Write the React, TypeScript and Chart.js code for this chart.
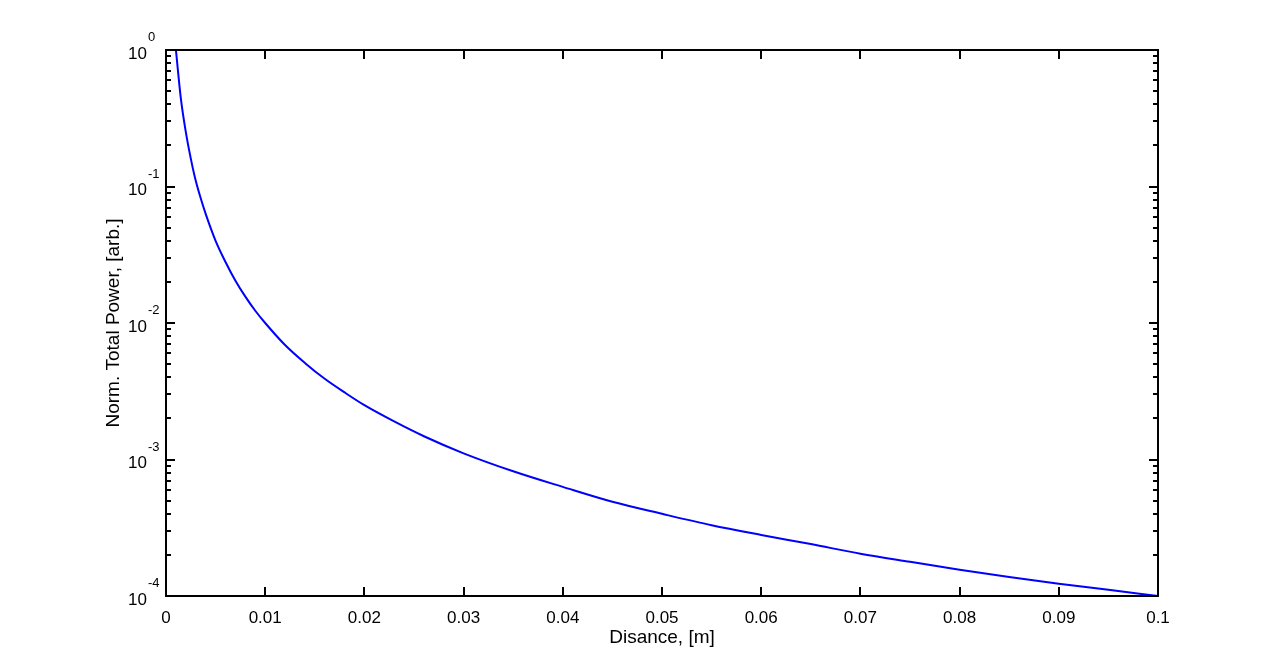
import React, { useEffect, useRef } from "react";
import { Chart, registerables } from "chart.js";

Chart.register(...registerables);

// Distance [m]
const DISTANCE = [
  0.001, 0.0015, 0.002, 0.0025, 0.003, 0.0035, 0.004, 0.005, 0.006, 0.007, 0.008, 0.009,
  0.01, 0.012, 0.014, 0.016, 0.018, 0.02, 0.023, 0.026, 0.03, 0.035, 0.04, 0.045, 0.05,
  0.055, 0.06, 0.065, 0.07, 0.075, 0.08, 0.085, 0.09, 0.095, 0.1,
];
// Normalised total power [arb.]
const POWER = [
  1.0, 0.44, 0.25, 0.16, 0.11, 0.082, 0.063, 0.04, 0.028, 0.0204, 0.0156, 0.0123,
  0.01, 0.0069, 0.0051, 0.0039, 0.0031, 0.0025, 0.0019, 0.00148, 0.00111, 0.00082,
  0.00063, 0.00049, 0.0004, 0.00033, 0.00028, 0.00024, 0.000204, 0.000178, 0.000156,
  0.000138, 0.000123, 0.000111, 0.0001,
];
const X_TICKS = [0, 0.01, 0.02, 0.03, 0.04, 0.05, 0.06, 0.07, 0.08, 0.09, 0.1];
const X_TICK_LABELS = ["0", "0.01", "0.02", "0.03", "0.04", "0.05", "0.06", "0.07", "0.08", "0.09", "0.1"];
const Y_EXPONENTS = [0, -1, -2, -3, -4];
const Y_EXPONENT_LABELS = ["0", "-1", "-2", "-3", "-4"];
const MINOR_MULTIPLES = [2, 3, 4, 5, 6, 7, 8, 9];

const FONT = "'Liberation Sans', Arial, Helvetica, sans-serif";

const framePlugin = {
  id: "matlabFrame",
  afterDatasetsDraw(chart: any) {
    const { ctx, chartArea, scales } = chart;
    const xs = scales.x;
    const ys = scales.y;
    const { left, right, top, bottom } = chartArea;
    ctx.save();
    ctx.strokeStyle = "#000";
    ctx.lineWidth = 2;
    ctx.beginPath();
    ctx.rect(left, top, right - left, bottom - top);
    ctx.stroke();

    const major = 9;
    const minor = 5;
    ctx.beginPath();
    // x ticks (bottom & top)
    X_TICKS.forEach((v) => {
      const px = Math.round(xs.getPixelForValue(v));
      ctx.moveTo(px, bottom);
      ctx.lineTo(px, bottom - major);
      ctx.moveTo(px, top);
      ctx.lineTo(px, top + major);
    });
    // y major & minor ticks (left & right)
    Y_EXPONENTS.forEach((e) => {
      const py = Math.round(ys.getPixelForValue(Math.pow(10, e)));
      ctx.moveTo(left, py);
      ctx.lineTo(left + major, py);
      ctx.moveTo(right, py);
      ctx.lineTo(right - major, py);
      if (e < 0) {
        MINOR_MULTIPLES.forEach((m) => {
          const py2 = Math.round(ys.getPixelForValue(m * Math.pow(10, e)));
          ctx.moveTo(left, py2);
          ctx.lineTo(left + minor, py2);
          ctx.moveTo(right, py2);
          ctx.lineTo(right - minor, py2);
        });
      }
    });
    ctx.stroke();

    // y tick labels 10^e
    ctx.fillStyle = "#000";
    Y_EXPONENTS.forEach((e, i) => {
      const py = ys.getPixelForValue(Math.pow(10, e));
      ctx.font = `17px ${FONT}`;
      ctx.textAlign = "right";
      ctx.textBaseline = "middle";
      ctx.fillText("10", 147, py + 4);
      ctx.font = `13px ${FONT}`;
      ctx.textAlign = "left";
      ctx.textBaseline = "alphabetic";
      ctx.fillText(Y_EXPONENT_LABELS[i], 148, py - 9);
    });
    ctx.restore();
  },
};

export default function App() {
  const ref = useRef<HTMLCanvasElement>(null);
  useEffect(() => {
    if (!ref.current) return;
    const chart = new Chart(ref.current, {
      type: "line",
      data: {
        datasets: [
          {
            data: DISTANCE.map((x, i) => ({ x, y: POWER[i] })),
            borderColor: "#0000ff",
            borderWidth: 2,
            pointRadius: 0,
            fill: false,
            cubicInterpolationMode: "monotone",
          },
        ],
      },
      options: {
        animation: false,
        responsive: false,
        events: [],
        layout: { padding: { left: 98, right: 122, top: 50, bottom: 17 } },
        plugins: { legend: { display: false }, tooltip: { enabled: false } },
        scales: {
          x: {
            type: "linear",
            min: 0,
            max: 0.1,
            grid: { display: false, drawTicks: false },
            border: { display: false },
            afterBuildTicks: (s: any) => {
              s.ticks = X_TICKS.map((v) => ({ value: v }));
            },
            afterFit: (s: any) => {
              s.height = 57;
            },
            ticks: {
              padding: 12,
              color: "#000",
              font: { family: FONT, size: 17 },
              maxRotation: 0,
              autoSkip: false,
              callback: (_v: any, i: number) => X_TICK_LABELS[i],
            },
            title: {
              display: true,
              text: "Disance, [m]",
              color: "#000",
              font: { family: FONT, size: 19 },
            },
          },
          y: {
            type: "logarithmic",
            min: 0.0001,
            max: 1,
            grid: { display: false, drawTicks: false },
            border: { display: false },
            ticks: { display: false },
            afterFit: (s: any) => {
              s.width = 68;
            },
            title: {
              display: true,
              text: "Norm. Total Power, [arb.]",
              color: "#000",
              font: { family: FONT, size: 19 },
            },
          },
        },
      },
      plugins: [framePlugin],
    } as any);
    return () => chart.destroy();
  }, []);
  return (
    <div style={{ position: "absolute", left: 0, top: 0, width: 1280, height: 670, background: "#fff" }}>
      <canvas ref={ref} width={1280} height={670} />
    </div>
  );
}
